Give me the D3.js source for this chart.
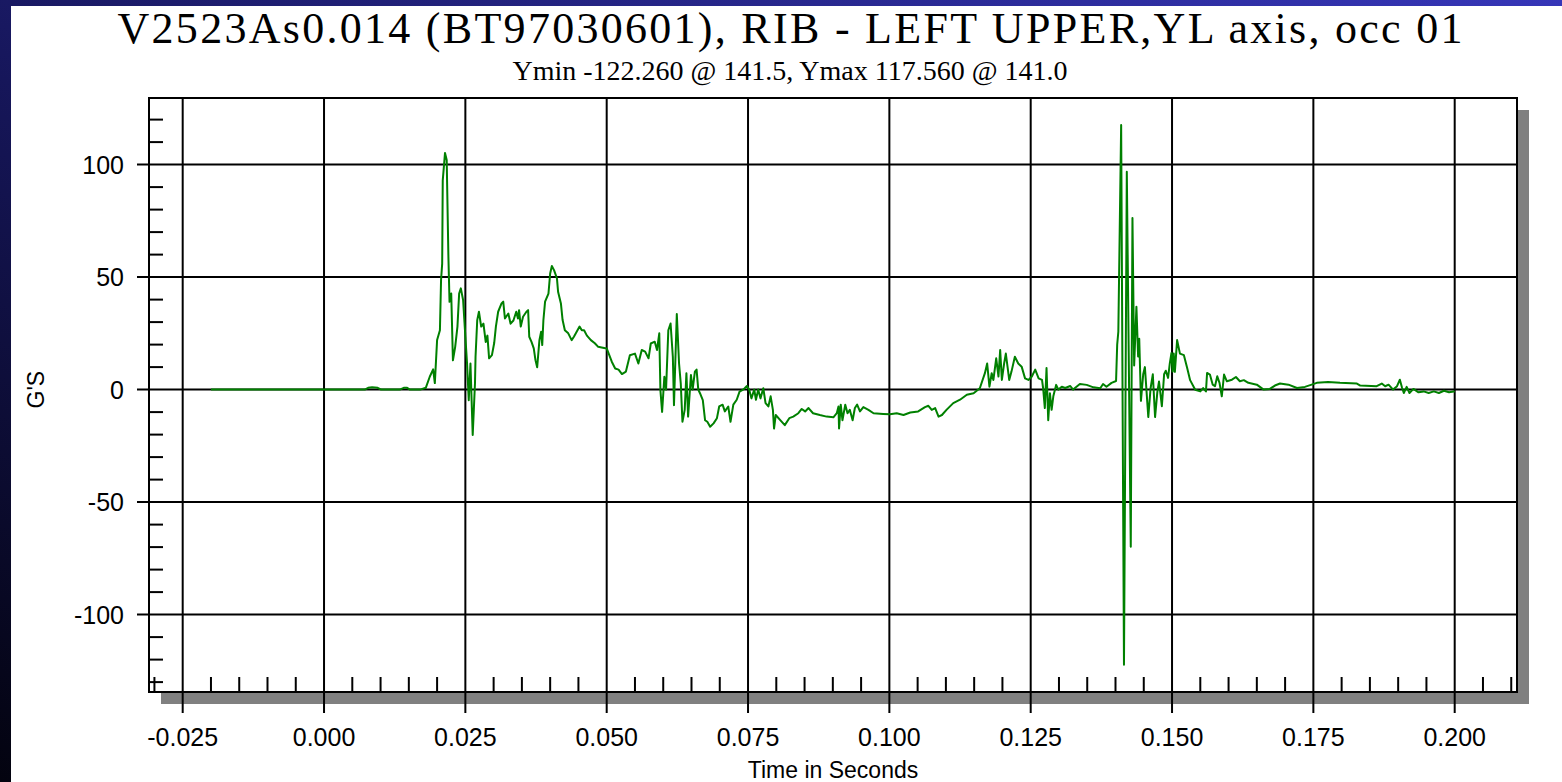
<!DOCTYPE html>
<meta charset="utf-8">
<style>
  body { margin: 0; overflow: hidden; background: #fff; }
  svg { display: block; }
  .sans { font-family: "Liberation Sans", Arial, sans-serif; fill: #000; }
  .serif { font-family: "Liberation Serif", "Times New Roman", serif; fill: #000; }
</style>
<body>
<script src="https://d3js.org/d3.v7.min.js"></script>
<script>

var title = "V2523As0.014 (BT97030601), RIB - LEFT UPPER,YL axis, occ 01";
var subtitle = "Ymin -122.260 @ 141.5, Ymax 117.560 @ 141.0";
var xLabel = "Time in Seconds";
var yLabel = "G'S";

// major ticks (labelled + grid)
var xTicks = [-0.025, 0, 0.025, 0.05, 0.075, 0.1, 0.125, 0.15, 0.175, 0.2];
var yTicks = [-100, -50, 0, 50, 100];

// trace: time in ms, acceleration in G's
var timeMs = [-20.0, 7.2, 7.8, 8.5, 9.5, 10.1, 13.4, 14.1, 14.7, 15.2, 17.0, 18.0, 18.7, 19.3, 19.6,
  20.0, 20.5, 20.7, 20.9, 21.0, 21.4, 21.7, 22.0, 22.2, 22.5, 22.8, 23.2, 23.6, 23.9, 24.2, 24.6,
  25.0, 25.3, 25.6, 25.9, 26.3, 26.7, 26.8, 27.1, 27.4, 27.8, 28.2, 28.6, 28.9, 29.2, 29.7, 30.1,
  30.4, 30.8, 31.4, 31.7, 32.0, 32.6, 33.0, 33.5, 34.0, 34.3, 34.5, 34.8, 35.2, 35.8, 36.1, 36.3,
  36.7, 37.1, 37.4, 37.7, 38.1, 38.4, 38.6, 38.8, 39.1, 39.7, 40.0, 40.3, 40.7, 41.2, 41.4, 41.9,
  42.2, 42.6, 43.2, 43.8, 44.2, 45.2, 45.6, 46.0, 46.5, 47.2, 47.9, 48.5, 49.1, 50.0, 50.9, 51.5,
  52.1, 52.7, 53.4, 54.1, 55.0, 55.6, 56.2, 56.8, 57.4, 57.8, 58.5, 58.9, 59.3, 59.5, 59.8, 60.2,
  60.5, 60.9, 61.3, 61.7, 61.9, 62.4, 62.8, 63.1, 63.4, 63.8, 64.1, 64.4, 64.9, 65.2, 65.6, 65.9,
  66.2, 66.5, 67.0, 67.4, 67.8, 68.3, 68.9, 69.5, 69.9, 70.5, 70.9, 71.5, 71.9, 72.4, 73.0, 73.5,
  74.2, 74.8, 75.2, 75.6, 76.1, 76.4, 76.8, 77.2, 77.7, 78.1, 78.6, 79.0, 79.4, 79.6, 79.9, 80.7,
  81.5, 82.3, 83.0, 83.9, 84.5, 85.1, 85.7, 86.5, 87.7, 88.9, 90.1, 90.7, 91.0, 91.1, 91.4, 91.7,
  92.2, 92.6, 93.0, 93.5, 93.9, 94.3, 94.8, 95.4, 96.3, 97.2, 98.9, 100.1, 101.3, 102.5, 103.7, 105.1,
  106.3, 106.9, 107.5, 108.1, 108.7, 109.3, 110.1, 111.3, 112.5, 113.7, 114.9, 116.0, 116.9, 117.3,
  117.7, 118.1, 118.4, 118.9, 119.3, 119.6, 119.9, 120.3, 120.6, 120.9, 121.2, 121.6, 122.2, 122.8,
  123.4, 124.0, 124.6, 125.2, 125.8, 126.4, 127.0, 127.2, 127.5, 127.8, 128.1, 128.4, 128.7, 129.0,
  129.5, 129.9, 130.5, 131.1, 132.0, 132.5, 133.7, 134.9, 136.1, 137.3, 137.8, 138.4, 139.3, 140.1,
  140.3, 140.5, 141.0, 141.5, 142.0, 142.7, 143.0, 143.3, 143.7, 144.0, 144.2, 144.5, 144.9, 145.2,
  145.5, 145.8, 146.2, 146.6, 147.0, 147.4, 147.7, 148.2, 148.6, 148.9, 149.3, 149.6, 149.9, 150.1,
  150.3, 150.5, 150.9, 151.4, 152.1, 152.7, 153.2, 154.1, 155.0, 155.5, 156.0, 156.2, 156.7, 157.2,
  157.6, 158.0, 158.4, 158.8, 159.2, 159.7, 160.6, 161.3, 162.0, 162.7, 163.5, 165.0, 166.2, 167.3,
  168.2, 169.1, 170.6, 172.1, 173.5, 174.7, 175.6, 177.6, 179.7, 182.7, 183.3, 186.2, 187.1, 187.7,
  188.3, 189.1, 189.8, 190.3, 190.7, 191.0, 191.5, 192.0, 192.7, 193.6, 194.5, 195.4, 196.3, 197.2,
  198.1, 199.0, 199.8, 200.0];

var gs = [0, 0, 0.8, 1.0, 0.8, 0, 0, 0.8, 0.8, 0, 0, 0.8, 5.7, 9.0, 2.9,
  22.0, 26.4, 48.7, 56.0, 93.0, 105.2, 102.0, 59.0, 39.0, 42.7, 13.0, 19.0, 28.0, 42.7, 45.0, 39.8,
  23.5, 11.6, -4.7, 11.6, -20.2, 2.7, 14.6, 30.9, 34.6, 28.0, 29.3, 21.2, 24.0, 13.9, 15.3, 20.7,
  28.0, 34.6, 38.3, 39.1, 31.6, 33.8, 29.3, 30.7, 34.6, 31.6, 35.3, 28.0, 32.4, 34.6, 35.3, 23.5,
  21.2, 18.3, 13.1, 9.9, 22.0, 25.7, 19.8, 30.7, 39.1, 42.7, 51.6, 54.9, 53.0, 49.4, 43.5, 38.3,
  30.9, 26.4, 25.0, 22.0, 23.5, 28.0, 26.4, 26.4, 24.0, 22.0, 20.6, 19.0, 18.7, 18.3, 12.4, 9.4,
  8.9, 6.9, 8.0, 15.3, 16.0, 11.6, 17.6, 16.9, 13.9, 20.5, 21.3, 17.6, 25.0, -0.2, -9.9, 5.7,
  0, 26.4, 29.4, 14.6, -6.9, 33.6, 11.6, 2.8, -14.3, -9.0, 7.3, -12.0, 6.5, 0, 8.0, 8.9,
  0, -1.6, -4.7, -13.6, -14.3, -16.5, -15.0, -12.7, -7.5, -6.7, -9.7, -7.5, -14.3, -6.7, -4.5, -0.9,
  0.1, 1.6, 0, -3.9, 0, -4.5, 0, -3.9, 0.6, -6.0, -7.5, -3.0, -9.0, -17.3, -11.3, -13.6,
  -15.8, -12.7, -12.0, -10.5, -8.6, -9.7, -8.2, -10.5, -11.3, -12.0, -12.3, -10.5, -7.5, -17.3, -6.7, -13.6,
  -6.7, -10.5, -9.0, -13.6, -8.2, -6.7, -9.7, -7.8, -9.0, -10.5, -10.8, -11.0, -10.5, -11.3, -10.2, -9.7,
  -7.8, -7.2, -9.0, -8.2, -12.0, -11.3, -9.0, -6.0, -4.5, -2.3, -1.6, 0.6, 7.3, 11.6,
  1.3, 7.3, 4.3, 13.9, 5.8, 17.6, 4.3, 11.6, 16.0, 10.2, 4.3, 8.0, 14.6, 11.6,
  10.2, 5.0, 4.3, 5.8, 8.9, 5.0, 4.3, 0.6, -8.2, 9.6, -13.6, -1.6, -9.0, -3.0,
  2.1, 0, 1.3, 0.7, 1.6, 0, 2.5, 2.1, 1.0, 0.6, 2.5, 1.3, 3.0, 3.8,
  20.0, 25.7, 117.56, -122.26, 96.8, -69.8, 76.3, 10.7, 36.8, 14.7, 22.6, -5.0, 6.8, 10.0,
  -1.1, -12.2, 0.5, 6.8, -12.2, -1.1, 3.6, -7.4, 6.8, 8.4, 5.2, 11.5, 16.3, 8.0,
  16.0, 7.9, 22.0, 16.0, 15.3, 9.4, 4.2, -0.1, -0.8, 0.7, -0.8, 7.4, 6.7, 2.2,
  1.5, 5.9, 3.0, -3.0, 6.7, 3.7, 4.4, 5.6, 3.7, 4.2, 3.0, 2.2, 0, 0.3,
  1.8, 2.7, 2.2, 0.7, 1.2, 2.2, 3.0, 3.4, 3.0, 2.7, 1.8, 1.5, 2.7, 1.5,
  2.2, 0, 1.5, 4.4, 0.7, -1.5, 1.2, -1.5, 0.3, -1.2, -0.8, -1.5, -0.8, -1.5,
  -0.5, -1.2, -0.8, -1.0];

var W = 1562, H = 782;
var plot = {left: 149, top: 98, right: 1517, bottom: 692};
var shadow = 12;

var x = d3.scaleLinear()
    .domain([-0.03096, 0.21102])
    .range([plot.left, plot.right]);

var y = d3.scaleLinear()
    .domain([-134.4, 129.6])
    .range([plot.bottom, plot.top]);

var svg = d3.select("body").append("svg")
    .attr("width", W)
    .attr("height", H);

// dark blue frame on the left and top
var grad = svg.append("defs").append("linearGradient")
    .attr("id", "frame")
    .attr("x1", "0%").attr("y1", "100%")
    .attr("x2", "100%").attr("y2", "0%");
grad.append("stop").attr("offset", "0%").attr("stop-color", "#03030f");
grad.append("stop").attr("offset", "45%").attr("stop-color", "#16165a");
grad.append("stop").attr("offset", "100%").attr("stop-color", "#3636b8");

svg.append("rect").attr("width", W).attr("height", H).attr("fill", "url(#frame)");
svg.append("rect").attr("x", 11).attr("y", 6).attr("width", W - 11).attr("height", H - 6).attr("fill", "#fff");

// titles
svg.append("text")
    .attr("class", "serif")
    .attr("x", 790).attr("y", 43)
    .attr("text-anchor", "middle")
    .attr("font-size", 44)
    .attr("textLength", 1345)
    .attr("lengthAdjust", "spacing")
    .text(title);

svg.append("text")
    .attr("class", "serif")
    .attr("x", 790).attr("y", 80)
    .attr("text-anchor", "middle")
    .attr("font-size", 28)
    .text(subtitle);

// shadow + plot area
svg.append("rect")
    .attr("x", plot.left + shadow).attr("y", plot.top + shadow)
    .attr("width", plot.right - plot.left).attr("height", plot.bottom - plot.top)
    .attr("fill", "#808080");
svg.append("rect")
    .attr("x", plot.left).attr("y", plot.top)
    .attr("width", plot.right - plot.left).attr("height", plot.bottom - plot.top)
    .attr("fill", "#fff");

var g = svg.append("g");

// grid lines, running past the frame as major ticks
g.selectAll(".vgrid").data(xTicks).enter().append("line")
    .attr("x1", function(d) { return x(d); })
    .attr("x2", function(d) { return x(d); })
    .attr("y1", plot.top)
    .attr("y2", plot.bottom + 21)
    .attr("stroke", "#000").attr("stroke-width", 2);

g.selectAll(".hgrid").data(yTicks).enter().append("line")
    .attr("x1", plot.left - 12)
    .attr("x2", plot.right)
    .attr("y1", function(d) { return y(d); })
    .attr("y2", function(d) { return y(d); })
    .attr("stroke", "#000").attr("stroke-width", 2);

// minor ticks, inside the frame
var xMinor = d3.range(-30, 211, 5).filter(function(d) { return d % 25 !== 0; }).map(function(d) { return d / 1000; });
var yMinor = d3.range(-130, 130, 10).filter(function(d) { return d % 50 !== 0; });

g.selectAll(".xminor").data(xMinor).enter().append("line")
    .attr("x1", function(d) { return x(d); })
    .attr("x2", function(d) { return x(d); })
    .attr("y1", plot.bottom - 15)
    .attr("y2", plot.bottom)
    .attr("stroke", "#000").attr("stroke-width", 2);

g.selectAll(".yminor").data(yMinor).enter().append("line")
    .attr("x1", plot.left)
    .attr("x2", plot.left + 14)
    .attr("y1", function(d) { return y(d); })
    .attr("y2", function(d) { return y(d); })
    .attr("stroke", "#000").attr("stroke-width", 2);

// the trace
var points = timeMs.map(function(t, i) { return [t / 1000, gs[i]]; });

var line = d3.line()
    .x(function(d) { return x(d[0]); })
    .y(function(d) { return y(d[1]); });

g.append("path")
    .datum(points)
    .attr("d", line)
    .attr("fill", "none")
    .attr("stroke", "#008000")
    .attr("stroke-width", 2)
    .attr("stroke-linejoin", "round");

// frame
svg.append("rect")
    .attr("x", plot.left).attr("y", plot.top)
    .attr("width", plot.right - plot.left).attr("height", plot.bottom - plot.top)
    .attr("fill", "none")
    .attr("stroke", "#000").attr("stroke-width", 2);

// tick labels (plain hyphen for negatives, like the original)
svg.selectAll(".xlab").data(xTicks).enter().append("text")
    .attr("class", "sans")
    .attr("x", function(d) { return x(d); })
    .attr("y", 746)
    .attr("text-anchor", "middle")
    .attr("font-size", 25)
    .text(function(d) { return d.toFixed(3); });

svg.selectAll(".ylab").data(yTicks).enter().append("text")
    .attr("class", "sans")
    .attr("x", 124)
    .attr("y", function(d) { return y(d); })
    .attr("dy", "0.36em")
    .attr("text-anchor", "end")
    .attr("font-size", 25)
    .text(function(d) { return String(d); });

// axis titles
svg.append("text")
    .attr("class", "sans")
    .attr("x", (plot.left + plot.right) / 2)
    .attr("y", 778)
    .attr("text-anchor", "middle")
    .attr("font-size", 23)
    .text(xLabel);

svg.append("text")
    .attr("class", "sans")
    .attr("transform", "translate(44," + y(0) + ") rotate(-90)")
    .attr("text-anchor", "middle")
    .attr("font-size", 23)
    .text(yLabel);

</script>
